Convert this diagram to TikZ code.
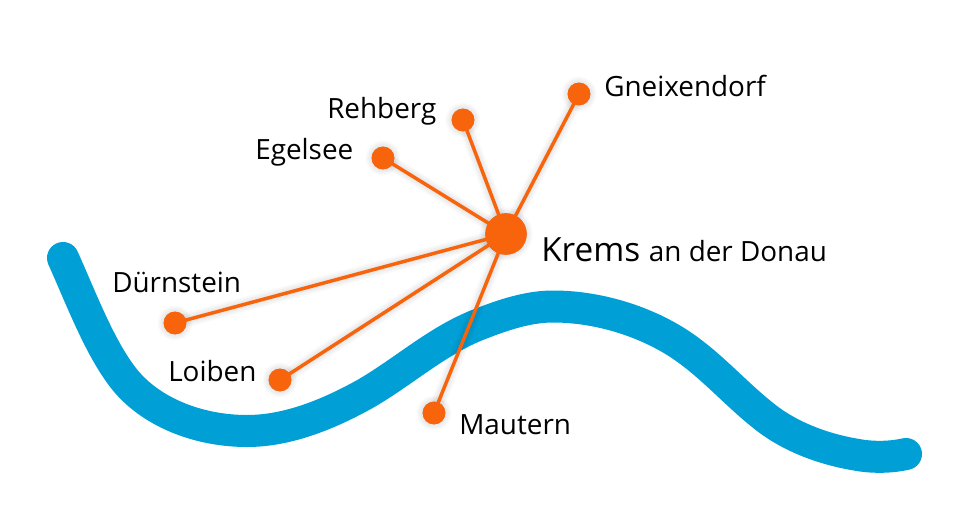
\documentclass[tikz,border=0pt]{standalone}
\usepackage{fontspec}
\setmainfont{Open Sans}
\definecolor{river}{RGB}{0,160,215}
\definecolor{org}{RGB}{248,100,12}
\tikzset{
  px/.style={x=0.75pt,y=-0.75pt},
  dot/.style={circle,fill=org,inner sep=0pt,minimum size=17pt},
  bigdot/.style={circle,fill=org,inner sep=0pt,minimum size=31pt},
  spoke/.style={draw=org,line width=2.6pt},
  lab/.style={inner sep=0pt,font=\fontsize{20.9}{24}\selectfont,anchor=base west},
  water/.style={draw=river,line cap=round,line join=round},
}
\begin{document}
\begin{tikzpicture}[px]
\useasboundingbox (0,0) rectangle (975,518);
\fill[white] (0,0) rectangle (975,518);
\draw[water,line width=24pt] (63,258)
 .. controls (81,298) and (100,349) .. (125,380)
 .. controls (153,414) and (201,431) .. (247,431)
 .. controls (288,431) and (329,414) .. (365,394)
 .. controls (404,371.5) and (438,340) .. (480,324)
 .. controls (503,315) and (528,306.5) .. (553,306.5)
 .. controls (596,306.5) and (642,320) .. (678,343)
 .. controls (712,365) and (737,396) .. (769,420)
 .. controls (795,439) and (827,450) .. (858,455)
 .. controls (875,458) and (893,457) .. (906,454);
\node[bigdot] (k) at (506,234) {};
\node[dot] (g) at (579,94) {};
\node[dot] (r) at (463,120) {};
\node[dot] (e) at (383,158) {};
\node[dot] (d) at (175,323) {};
\node[dot] (l) at (280,380) {};
\node[dot] (m) at (434,413) {};
% soft shadow under spokes and dots
\begin{scope}[shift={(2,4)},black,opacity=0.018,line cap=round]
\foreach \w in {3,5,7,9,11}{
  \foreach \n in {g,r,e,d,l,m} \draw[line width=\w pt] (k.center) -- (\n.center);
  \foreach \n in {g,r,e,d,l,m} \fill (\n.center) circle[radius=8.5pt+\w pt/2-1pt];
  \fill (k.center) circle[radius=15.5pt+\w pt/2-1pt];
}
\end{scope}
\foreach \n in {g,r,e,d,l,m} \draw[spoke] (k.center) -- (\n.center);
\node[dot] at (g) {};
\node[dot] at (r) {};
\node[dot] at (e) {};
\node[dot] at (d) {};
\node[dot] at (l) {};
\node[dot] at (m) {};
\node[bigdot] at (k) {};
\node[lab] (tg) at (604,96) {Gneixendorf};
\node[lab] (tr) at (327,118) {Rehberg};
\node[lab] (te) at (255,159) {Egelsee};
\node[lab] (td) at (112,292) {Dürnstein};
\node[lab] (tl) at (168,381) {Loiben};
\node[lab] (tm) at (459,434) {Mautern};
\node[lab] (tk) at (541,261) {\fontsize{25}{30}\selectfont Krems \fontsize{20.9}{24}\selectfont an der Donau};
\end{tikzpicture}
\end{document}
